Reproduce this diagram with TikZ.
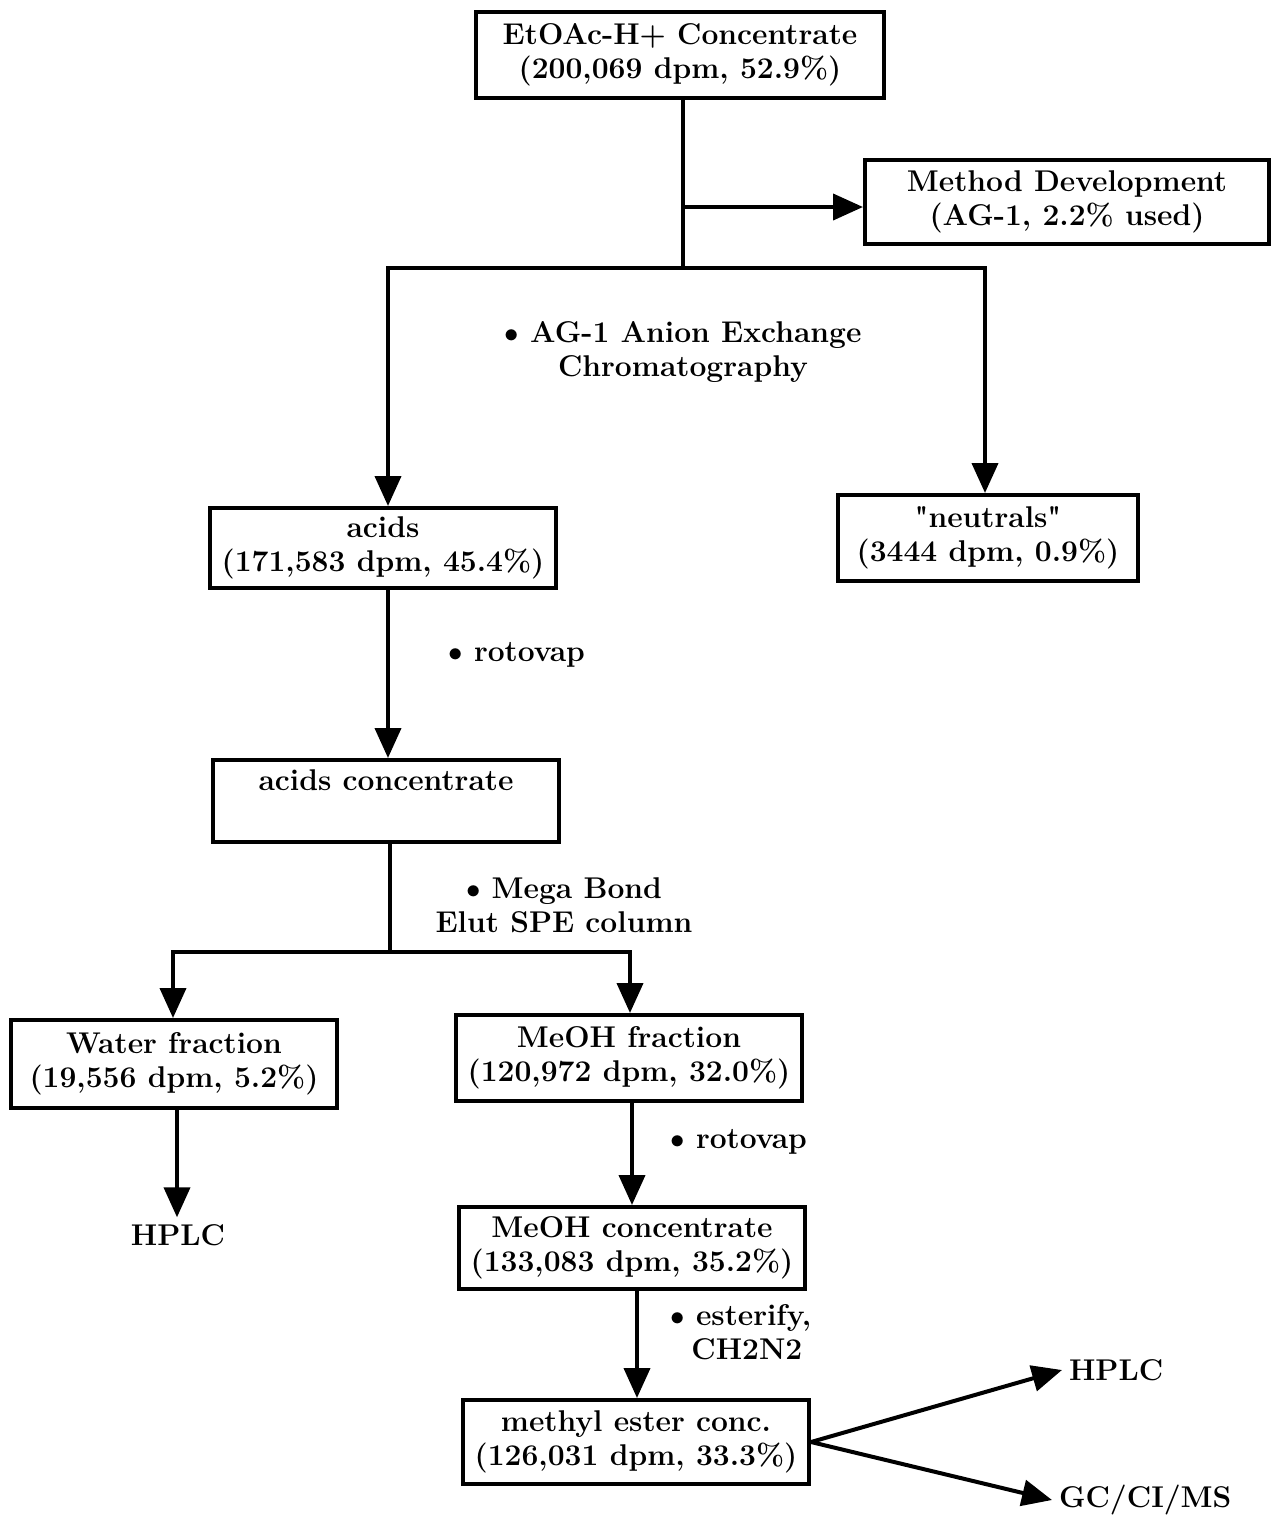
\documentclass[tikz,border=0pt]{standalone}
\usepackage{fontspec}
\setmainfont{Latin Modern Roman}[Ligatures=TeXOff]
\usetikzlibrary{arrows.meta}

\begin{document}
\begin{tikzpicture}[x=0.5pt, y=-0.5pt,
  font=\fontsize{15}{17}\selectfont\bfseries,
  box/.style={draw, line width=2pt, align=center, inner sep=0pt},
  note/.style={align=left, inner sep=0pt},
  flow/.style={line width=2pt, -{Triangle[length=15pt,width=13pt]}},
  link/.style={line width=2pt, line cap=rect}]
\useasboundingbox (0,0) rectangle (1270,1516);
\node [box, minimum width=204pt, minimum height=43pt] (top) at (680,55) {EtOAc-H+ Concentrate\\(200,069 dpm, 52.9\%)};
\node [box, minimum width=202pt, minimum height=42pt] (method) at (1067,202) {Method Development\\(AG-1, 2.2\% used)};
\node [box, minimum width=173pt, minimum height=40pt] (acids) at (383,548) {acids\\(171,583 dpm, 45.4\%)};
\node [box, minimum width=150pt, minimum height=43pt] (neutrals) at (988,538) {"neutrals"\\(3444 dpm, 0.9\%)};
\node [box, minimum width=173pt, minimum height=41pt] (acidconc) at (386,801) {acids concentrate\\\phantom{(0)}};
\node [box, minimum width=163pt, minimum height=44pt] (water) at (174,1064) {Water fraction\\(19,556 dpm, 5.2\%)};
\node [box, minimum width=173pt, minimum height=43pt] (meohfrac) at (629,1058) {MeOH fraction\\(120,972 dpm, 32.0\%)};
\node [box, minimum width=173pt, minimum height=41pt] (meohconc) at (632,1248) {MeOH concentrate\\(133,083 dpm, 35.2\%)};
\node [box, minimum width=173pt, minimum height=42pt] (ester) at (636,1442) {methyl ester conc.\\(126,031 dpm, 33.3\%)};
\node (hplc1) at (178,1235) {HPLC};
\node [anchor=west] (hplc2) at (1062,1370) {HPLC};
\node [anchor=west] (gcms) at (1052,1500) {GC/CI/MS};
% process steps
\node [note, align=center] (anion) at (683,352) {$\bullet$ AG-1 Anion Exchange\\Chromatography};
\node [note, anchor=west] (roto1) at (448,655) {$\bullet$ rotovap};
\node [note, align=center] (mega) at (564,905) {$\bullet$ Mega Bond\\Elut SPE column};
\node [note, anchor=west] (roto2) at (670,1142) {$\bullet$ rotovap};
\node [note, anchor=west] (ester1) at (670,1332) {$\bullet$ esterify,\\\hspace{0.7em}CH2N2};
% connectors
\coordinate (branch) at (683,207);
\coordinate (split1) at (683,268);
\coordinate (left1) at (388,268);
\coordinate (right1) at (985,268);
\coordinate (split2) at (390,952);
\coordinate (left2) at (173,952);
\coordinate (right2) at (630,952);
\draw [link] (top.south -| split1) -- (split1);
\draw [flow] (branch) -- (method.west |- branch);
\draw [link] (left1) -- (right1);
\draw [flow] (left1) -- (acids.north -| left1);
\draw [flow] (right1) -- (neutrals.north -| right1);
\draw [flow] (acids.south -| left1) -- (acidconc.north -| left1);
\draw [link] (acidconc.south -| split2) -- (split2);
\draw [link] (left2) -- (right2);
\draw [flow] (left2) -- (water.north -| left2);
\draw [flow] (right2) -- (meohfrac.north -| right2);
\draw [flow] (water.south -| 177,0) -- (hplc1.north -| 177,0);
\draw [flow] (meohfrac.south -| 632,0) -- (meohconc.north -| 632,0);
\draw [flow] (meohconc.south -| 637,0) -- (ester.north -| 637,0);
\draw [flow] (ester.east) -- (hplc2.west);
\draw [flow] (ester.east) -- (gcms.west);
\end{tikzpicture}
\end{document}
